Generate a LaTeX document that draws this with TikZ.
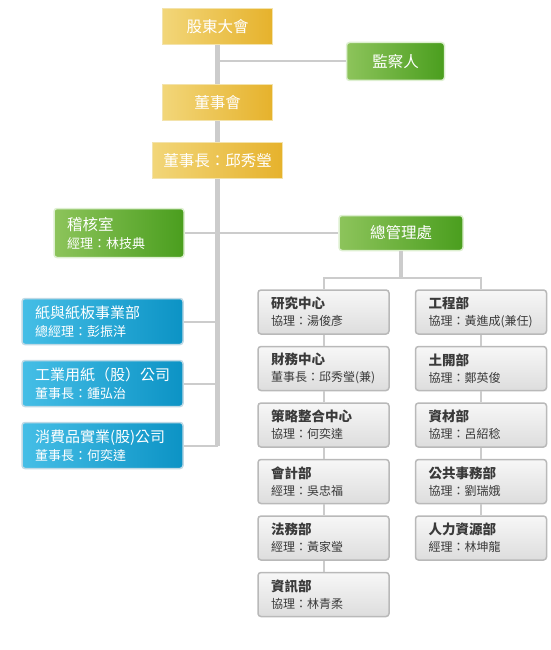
\documentclass[tikz,border=0pt]{standalone}
\usepackage{fontspec}
\setmainfont{Noto Sans CJK TC}
\usetikzlibrary{positioning}

\definecolor{goldL}{HTML}{F2D679}
\definecolor{goldR}{HTML}{E6B22C}
\definecolor{goldEdge}{HTML}{F3E3AC}
\definecolor{greenL}{HTML}{8DC45B}
\definecolor{greenR}{HTML}{4A9E1E}
\definecolor{greenEdge}{HTML}{DDEFD0}
\definecolor{blueL}{HTML}{45BEE6}
\definecolor{blueR}{HTML}{0C93C5}
\definecolor{blueEdge}{HTML}{BFD9E5}
\definecolor{greyTop}{HTML}{F7F7F7}
\definecolor{greyBot}{HTML}{DDDDDD}
\definecolor{greyEdge}{HTML}{B9B9B9}
\definecolor{lineGrey}{HTML}{CCCCCC}
\definecolor{darkText}{HTML}{3A3A3A}

\begin{document}
\begin{tikzpicture}[x=1pt, y=-1pt,
  every node/.style = {inner sep=0pt, text=white},
  goldbox/.style = {draw=goldEdge, line width=1.5pt,
    left color=goldL, right color=goldR,
    minimum width=110pt, minimum height=36pt,
    font=\fontsize{15.5}{18}\selectfont},
  greenbox/.style = {draw=greenEdge, line width=1.5pt, rounded corners=3pt,
    left color=greenL, right color=greenR,
    font=\fontsize{15.5}{18}\selectfont},
  bluebox/.style = {draw=blueEdge, line width=1.5pt, rounded corners=3pt,
    left color=blueL, right color=blueR,
    text width=135pt, inner xsep=13pt, minimum height=46pt, align=left,
    font=\fontsize{13}{18}\selectfont},
  greybox/.style = {draw=greyEdge, line width=1.5pt, rounded corners=3pt,
    top color=greyTop, bottom color=greyBot, text=darkText,
    text width=105pt, inner xsep=13pt, minimum height=44pt, align=left,
    font=\fontsize{12}{17}\selectfont},
  trunk/.style = {draw=lineGrey, line width=5pt},
  branch/.style = {draw=lineGrey, line width=2pt},
  node distance=11pt
  ]
  \useasboundingbox (0,0) rectangle (550,650);

  % board and chairman
  \node[goldbox] (gudong) at (217.5,26.5) {股東大會};
  \node[greenbox, minimum width=98pt, minimum height=38pt] (jiancha) at (395.5,61.5) {監察人};
  \node[goldbox] (dongshihui) at (217.5,102.5) {董事會};
  \node[goldbox, minimum width=130pt] (chairman) at (217.5,160.5) {董事長：邱秀瑩};
  \coordinate (trunkend) at (217.5,446);

  % audit and head office
  \node[greenbox, text width=104pt, inner xsep=13pt, minimum height=49pt, align=left]
    (jihe) at (119,233) {稽核室\\{\fontsize{13}{18}\selectfont 經理：林技典}};
  \node[greenbox, minimum width=124pt, minimum height=35pt] (zongguanli) at (401,233) {總管理處};

  % business units
  \node[bluebox] (zhiban) at (102.5,321.5)
    {{\fontsize{15}{18}\selectfont 紙與紙板事業部}\\總經理：彭振洋};
  \node[bluebox, below=14.5pt of zhiban] (gongyong)
    {{\fontsize{15}{18}\selectfont 工業用紙（股）公司}\\董事長：鍾弘治};
  \node[bluebox, below=14.5pt of gongyong] (xiaofei)
    {{\fontsize{15}{18}\selectfont 消費品實業(股)公司}\\董事長：何奕達};

  % head office, left column
  \node[greybox] (yanjiu) at (323.5,312) {\textbf{\fontsize{13.5}{17}\selectfont 研究中心}\\協理：湯俊彥};
  \node[greybox, below=of yanjiu] (caiwu) {\textbf{\fontsize{13.5}{17}\selectfont 財務中心}\\董事長：邱秀瑩(兼)};
  \node[greybox, below=of caiwu] (celue) {\textbf{\fontsize{13.5}{17}\selectfont 策略整合中心}\\協理：何奕達};
  \node[greybox, below=of celue] (kuaiji) {\textbf{\fontsize{13.5}{17}\selectfont 會計部}\\經理：吳忠福};
  \node[greybox, below=of kuaiji] (fawu) {\textbf{\fontsize{13.5}{17}\selectfont 法務部}\\經理：黃家瑩};
  \node[greybox, below=of fawu] (zixun) {\textbf{\fontsize{13.5}{17}\selectfont 資訊部}\\協理：林青柔};

  % head office, right column
  \node[greybox] (gongcheng) at (481,312) {\textbf{\fontsize{13.5}{17}\selectfont 工程部}\\協理：黃進成(兼任)};
  \node[greybox, below=of gongcheng] (tukai) {\textbf{\fontsize{13.5}{17}\selectfont 土開部}\\協理：鄭英俊};
  \node[greybox, below=of tukai] (zicai) {\textbf{\fontsize{13.5}{17}\selectfont 資材部}\\協理：呂紹稔};
  \node[greybox, below=of zicai] (gonggong) {\textbf{\fontsize{13.5}{17}\selectfont 公共事務部}\\協理：劉瑞娥};
  \node[greybox, below=of gonggong] (renli) {\textbf{\fontsize{13.5}{17}\selectfont 人力資源部}\\經理：林坤龍};
  \coordinate (split) at (401,277.5);

  % connectors
  \draw[trunk] (gudong) -- (dongshihui);
  \draw[trunk] (dongshihui) -- (chairman);
  \draw[trunk] (chairman.south) -- (trunkend);
  \draw[branch] (jiancha.west) -- (jiancha.west -| trunkend);
  \draw[branch] (jihe) -- (zongguanli);
  \draw[branch] (zhiban.east) -- (zhiban.east -| trunkend);
  \draw[branch] (gongyong.east) -- (gongyong.east -| trunkend);
  \draw[branch] (xiaofei.east) -- (xiaofei.east -| trunkend);
  \draw[trunk, line width=4pt] (zongguanli.south) -- (split);
  \draw[branch] (yanjiu.north) |- (split) -| (gongcheng.north);
  \draw[branch] (yanjiu) -- (caiwu);
  \draw[branch] (caiwu) -- (celue);
  \draw[branch] (celue) -- (kuaiji);
  \draw[branch] (kuaiji) -- (fawu);
  \draw[branch] (fawu) -- (zixun);
  \draw[branch] (gongcheng) -- (tukai);
  \draw[branch] (tukai) -- (zicai);
  \draw[branch] (zicai) -- (gonggong);
  \draw[branch] (gonggong) -- (renli);
\end{tikzpicture}
\end{document}
